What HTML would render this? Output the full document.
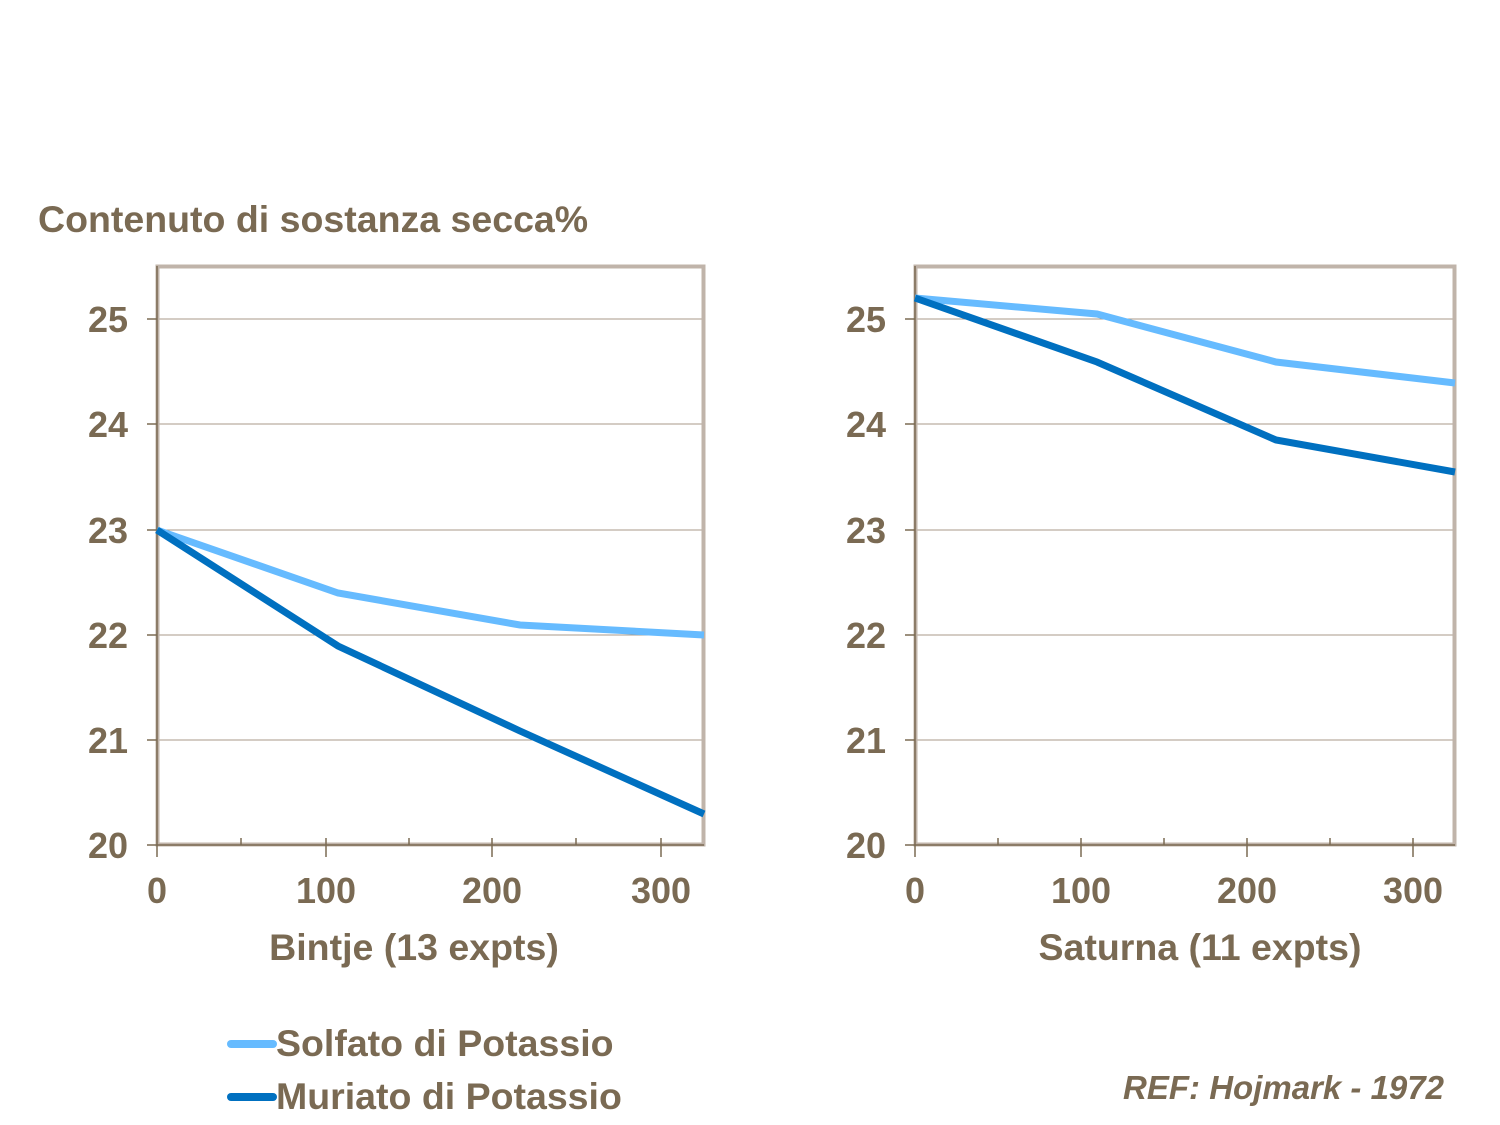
<!DOCTYPE html>
<html><head><meta charset="utf-8"><style>
html,body{margin:0;padding:0;background:#fff;}
svg{display:block;}
text{font-family:"Liberation Sans",Arial,sans-serif;font-weight:bold;fill:#7a6a53;}
</style></head><body>
<svg width="1500" height="1125" viewBox="0 0 1500 1125" xmlns="http://www.w3.org/2000/svg">
<text x="38" y="232" font-size="37.5">Contenuto di sostanza secca%</text>

<!-- Chart 1 -->
<g>
<g stroke="#a89a8a" stroke-width="1">
<line x1="157" y1="319" x2="704" y2="319"/><line x1="157" y1="424" x2="704" y2="424"/>
<line x1="157" y1="530" x2="704" y2="530"/><line x1="157" y1="635" x2="704" y2="635"/>
<line x1="157" y1="740" x2="704" y2="740"/>
</g>
<rect x="157.5" y="266.5" width="546" height="578" fill="none" stroke="#c0b4aa" stroke-width="4"/>
<g stroke="#7a6a53" stroke-width="1.5">
<line x1="147" y1="845" x2="704" y2="845"/><line x1="157" y1="266" x2="157" y2="845"/>
<line x1="147" y1="319" x2="157" y2="319"/><line x1="147" y1="424" x2="157" y2="424"/>
<line x1="147" y1="530" x2="157" y2="530"/><line x1="147" y1="635" x2="157" y2="635"/>
<line x1="147" y1="740" x2="157" y2="740"/>
<line x1="157" y1="845" x2="157" y2="857"/><line x1="326" y1="838" x2="326" y2="857"/>
<line x1="492" y1="838" x2="492" y2="857"/><line x1="661" y1="838" x2="661" y2="857"/>
<line x1="241" y1="838" x2="241" y2="845"/><line x1="409" y1="838" x2="409" y2="845"/>
<line x1="576" y1="838" x2="576" y2="845"/>
</g>
<polyline points="157,530 338,593 520,625 704,635" fill="none" stroke="#66bbff" stroke-width="7"/>
<polyline points="157,530 338,646 520,731 704,814" fill="none" stroke="#0070c0" stroke-width="7"/>
<g font-size="36" text-anchor="end">
<text x="128" y="332">25</text><text x="128" y="437">24</text><text x="128" y="543">23</text>
<text x="128" y="648">22</text><text x="128" y="753">21</text><text x="128" y="858">20</text>
</g>
<g font-size="36" text-anchor="middle">
<text x="157" y="903">0</text><text x="326" y="903">100</text><text x="492" y="903">200</text><text x="661" y="903">300</text>
<text x="414" y="960" font-size="37.5">Bintje (13 expts)</text>
</g>
</g>

<!-- Chart 2 -->
<g>
<g stroke="#a89a8a" stroke-width="1">
<line x1="915" y1="319" x2="1455" y2="319"/><line x1="915" y1="424" x2="1455" y2="424"/>
<line x1="915" y1="530" x2="1455" y2="530"/><line x1="915" y1="635" x2="1455" y2="635"/>
<line x1="915" y1="740" x2="1455" y2="740"/>
</g>
<rect x="915.5" y="266.5" width="539" height="578" fill="none" stroke="#c0b4aa" stroke-width="4"/>
<g stroke="#7a6a53" stroke-width="1.5">
<line x1="905" y1="845" x2="1455" y2="845"/><line x1="915" y1="266" x2="915" y2="845"/>
<line x1="905" y1="319" x2="915" y2="319"/><line x1="905" y1="424" x2="915" y2="424"/>
<line x1="905" y1="530" x2="915" y2="530"/><line x1="905" y1="635" x2="915" y2="635"/>
<line x1="905" y1="740" x2="915" y2="740"/>
<line x1="915" y1="845" x2="915" y2="857"/><line x1="1081" y1="838" x2="1081" y2="857"/>
<line x1="1247" y1="838" x2="1247" y2="857"/><line x1="1413" y1="838" x2="1413" y2="857"/>
<line x1="998" y1="838" x2="998" y2="845"/><line x1="1164" y1="838" x2="1164" y2="845"/>
<line x1="1330" y1="838" x2="1330" y2="845"/>
</g>
<polyline points="915,298 1097,314 1276,362 1455,383" fill="none" stroke="#66bbff" stroke-width="7"/>
<polyline points="915,298 1097,362 1276,440 1455,472" fill="none" stroke="#0070c0" stroke-width="7"/>
<g font-size="36" text-anchor="end">
<text x="886" y="332">25</text><text x="886" y="437">24</text><text x="886" y="543">23</text>
<text x="886" y="648">22</text><text x="886" y="753">21</text><text x="886" y="858">20</text>
</g>
<g font-size="36" text-anchor="middle">
<text x="915" y="903">0</text><text x="1081" y="903">100</text><text x="1247" y="903">200</text><text x="1413" y="903">300</text>
<text x="1200" y="960" font-size="37.5">Saturna (11 expts)</text>
</g>
</g>

<!-- Legend -->
<line x1="231" y1="1044" x2="273" y2="1044" stroke="#66bbff" stroke-width="8" stroke-linecap="round"/>
<line x1="231" y1="1097" x2="273" y2="1097" stroke="#0070c0" stroke-width="8" stroke-linecap="round"/>
<text x="276" y="1056" font-size="37.5">Solfato di Potassio</text>
<text x="276" y="1109" font-size="37.5">Muriato di Potassio</text>
<text x="1444" y="1099" font-size="33" font-style="italic" text-anchor="end">REF: Hojmark - 1972</text>
</svg>
</body></html>
